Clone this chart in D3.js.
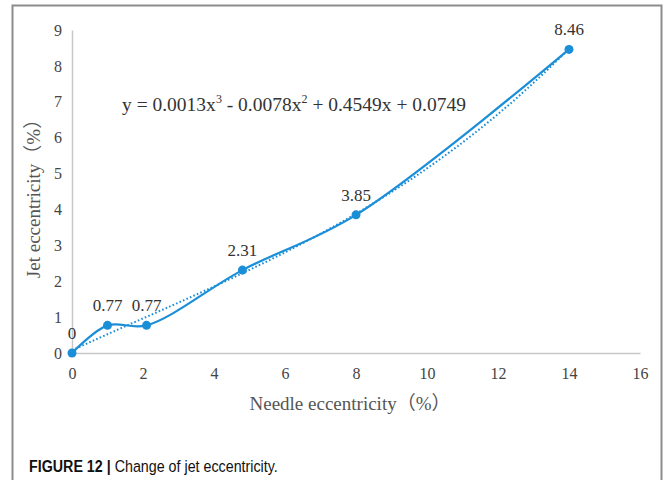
<!DOCTYPE html>
<html>
<head>
<meta charset="utf-8">
<script src="https://cdn.jsdelivr.net/npm/d3@7"></script>
<style>
  html, body { margin: 0; padding: 0; background: #fff; }
  svg { display: block; }
</style>
</head>
<body>
<svg id="chart" width="664" height="480"></svg>
<script>
// Needle eccentricity (%) vs jet eccentricity (%)
const needle = [0, 1, 2.1, 4.8, 8, 14];
const jet = [0, 0.77, 0.77, 2.31, 3.85, 8.46];
const pointLabels = ["0", "0.77", "0.77", "2.31", "3.85", "8.46"];
const xTicks = [0, 2, 4, 6, 8, 10, 12, 14, 16];
const yTicks = [0, 1, 2, 3, 4, 5, 6, 7, 8, 9];
// Cubic trendline coefficients: y = a x^3 + b x^2 + c x + d
const trendCoef = [0.0013, -0.0078, 0.4549, 0.0749];

const blue = "#1b8ed8";
const serif = "'Liberation Serif', 'Times New Roman', 'Noto Sans CJK SC', serif";
const svg = d3.select("#chart");

// Outer frame
svg.append("path")
  .attr("d", "M12.5,480 V5.5 H661.5 V480")
  .attr("fill", "none").attr("stroke", "#8c8c8c").attr("stroke-width", 2);

const x = d3.scaleLinear().domain([0, 16]).range([72, 640]);
const y = d3.scaleLinear().domain([0, 9]).range([353, 30]);

// Axes (lines only, no tick marks)
const xAxis = svg.append("g").attr("transform", `translate(0,${y(0)})`)
  .call(d3.axisBottom(x).tickValues(xTicks).tickSize(0).tickPadding(15));
const yAxis = svg.append("g").attr("transform", `translate(${x(0)},0)`)
  .call(d3.axisLeft(y).tickValues(yTicks).tickSize(0).tickPadding(10));
[xAxis, yAxis].forEach(g => {
  g.select(".domain").attr("stroke", "#c8c8c8").attr("stroke-width", 1.5);
  g.selectAll("text")
    .attr("font-family", serif)
    .attr("font-size", 16).attr("fill", "#444");
});

// Trendline (dotted)
const trend = d3.range(0, 14.0001, 0.1).map(v => [v,
  trendCoef[0] * v ** 3 + trendCoef[1] * v ** 2 + trendCoef[2] * v + trendCoef[3]]);
svg.append("path")
  .datum(trend)
  .attr("fill", "none").attr("stroke", blue).attr("stroke-width", 2)
  .attr("stroke-dasharray", "1.6,2.2")
  .attr("d", d3.line().x(d => x(d[0])).y(d => y(d[1])));

// Smoothed data line
const pts = needle.map((v, i) => [v, jet[i]]);
svg.append("path")
  .datum(pts)
  .attr("fill", "none").attr("stroke", blue).attr("stroke-width", 2.2)
  .attr("d", d3.line().curve(d3.curveCatmullRom.alpha(0.5))
    .x(d => x(d[0])).y(d => y(d[1])));

// Markers
svg.append("g").selectAll("circle").data(pts).join("circle")
  .attr("cx", d => x(d[0])).attr("cy", d => y(d[1])).attr("r", 4.5)
  .attr("fill", blue);

// Value labels
svg.append("g").selectAll("text").data(pts).join("text")
  .attr("x", d => x(d[0]))
  .attr("y", d => y(d[1]) - 14)
  .attr("text-anchor", "middle")
  .attr("font-family", serif)
  .attr("font-size", 17).attr("fill", "#333")
  .text((d, i) => pointLabels[i]);

// Trendline equation
const eq = svg.append("text")
  .attr("x", 122).attr("y", 111)
  .attr("font-family", serif)
  .attr("font-size", 19.5).attr("fill", "#333");
eq.append("tspan").text("y = 0.0013x");
eq.append("tspan").attr("dy", -8).attr("font-size", 12).text("3");
eq.append("tspan").attr("dy", 8).text(" - 0.0078x");
eq.append("tspan").attr("dy", -8).attr("font-size", 12).text("2");
eq.append("tspan").attr("dy", 8).text(" + 0.4549x + 0.0749");

// Axis titles
svg.append("text")
  .attr("x", 350).attr("y", 410).attr("text-anchor", "middle")
  .attr("font-family", serif)
  .attr("font-size", 19).attr("fill", "#555")
  .text("Needle eccentricity（%）");
svg.append("text")
  .attr("transform", "translate(40,194) rotate(-90)")
  .attr("text-anchor", "middle")
  .attr("font-family", serif)
  .attr("font-size", 19).attr("fill", "#555")
  .text("Jet eccentricity（%）");

// Caption (condensed sans)
const cap = svg.append("text")
  .attr("transform", "translate(29,472) scale(0.84,1)")
  .attr("font-family", "'Liberation Sans', Arial, sans-serif")
  .attr("font-size", 17).attr("fill", "#111");
cap.append("tspan").attr("font-weight", "bold").text("FIGURE 12 | ");
cap.append("tspan").text("Change of jet eccentricity.");
</script>
</body>
</html>
